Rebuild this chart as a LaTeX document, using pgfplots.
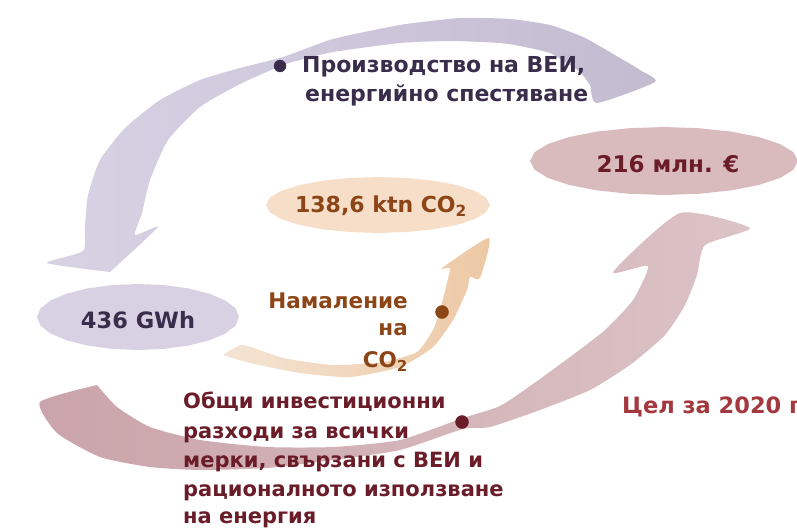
\documentclass[border=0pt]{standalone}
\usepackage{pgfplots}
\pgfplotsset{compat=1.18}
\usepackage{fontspec}
\setmainfont{DejaVu Sans}
\definecolor{lavA}{HTML}{D8D2E5}
\definecolor{lavB}{HTML}{C3BCD1}
\definecolor{lavE}{HTML}{D8D1E3}
\definecolor{pinkA}{HTML}{CAA4AA}
\definecolor{pinkB}{HTML}{DCC3C6}
\definecolor{pinkE}{HTML}{D9BABD}
\definecolor{begA}{HTML}{F4E4D4}
\definecolor{begB}{HTML}{EDC8A4}
\definecolor{begE}{HTML}{F6DEC8}
\definecolor{tPurple}{HTML}{3A2D4C}
\definecolor{tBrown}{HTML}{8B4516}
\definecolor{tRed}{HTML}{6A1D28}
\definecolor{tRed2}{HTML}{A3383E}
\begin{document}
\begin{tikzpicture}
\begin{axis}[scale only axis, width=797pt, height=527pt,
  xmin=0, xmax=797, ymin=0, ymax=527, y dir=reverse,
  hide axis, clip=false]
% lavender curved arrow
\addplot[draw=none, smooth, tension=0.35, left color=lavA, right color=lavB] coordinates {
(110,272) (47,263) (83,251) (85,225) (88,195) (100,160) (125,128) (160,100)
(200,80) (240,68) (283,57) (333,39) (400,25) (460,18) (510,19) (550,25)
(583,37) (615,55) (640,70) (655,82) (597,103) (590,85) (580,72) (565,62)
(550,53) (525,47) (500,43) (450,41) (400,43) (333,52) (300,60) (283,65)
(240,84) (200,107) (168,140) (150,180) (142,213) (135,235) (158,227) (110,272)};
% pink curved arrow
\addplot[draw=none, smooth, tension=0.35, left color=pinkA, right color=pinkB] coordinates {
(97,385) (117,407) (150,427) (200,440) (267,447) (333,447) (400,440)
(463,418) (500,406) (533,384) (570,357) (605,330) (633,300) (648,266)
(613,272) (680,213) (750,228) (705,245) (697,275) (685,305) (665,335)
(630,365) (590,390) (540,410) (490,427) (463,429) (400,450) (333,460)
(267,468) (200,470) (150,467) (100,457) (57,433) (40,402) (97,385)};
% beige curved arrow
\addplot[draw=none, smooth, tension=0.35, left color=begA, right color=begB] coordinates {
(223,355) (243,345) (283,358) (333,365) (383,362) (417,352) (433,330)
(440,310) (447,283) (450,268) (442,268) (489,238) (480,278) (470,277)
(467,290) (453,320) (433,347) (400,367) (350,377) (300,373) (250,363) (223,355)};
% ellipse 436 GWh
\addplot[draw=none, fill=lavE] coordinates {
(239,317) (235.6,325.5) (225.5,333.5) (209.4,340.3) (188.5,345.6) (164.1,348.9)
(138,350) (111.9,348.9) (87.5,345.6) (66.6,340.3) (50.5,333.5) (40.4,325.5)
(37,317) (40.4,308.5) (50.5,300.5) (66.6,293.7) (87.5,288.4) (111.9,285.1)
(138,284) (164.1,285.1) (188.5,288.4) (209.4,293.7) (225.5,300.5) (235.6,308.5)};
% ellipse 138,6 ktn
\addplot[draw=none, fill=begE] coordinates {
(490,205) (486.2,212.2) (475,219) (457.2,224.8) (434,229.2) (407,232)
(378,233) (349,232) (322,229.2) (298.8,224.8) (281,219) (269.8,212.2)
(266,205) (269.8,197.8) (281,191) (298.8,185.2) (322,180.8) (349,178)
(378,177) (407,178) (434,180.8) (457.2,185.2) (475,191) (486.2,197.8)};
% ellipse 216
\addplot[draw=none, fill=pinkE] coordinates {
(798,161) (793.4,169.8) (780,178) (758.8,185) (731,190.4) (698.7,193.8)
(664,195) (629.3,193.8) (597,190.4) (569.2,185) (548,178) (534.6,169.8)
(530,161) (534.6,152.2) (548,144) (569.2,137) (597,131.6) (629.3,128.2)
(664,127) (698.7,128.2) (731,131.6) (758.8,137) (780,144) (793.4,152.2)};
% bullets
\addplot[only marks, mark=*, mark size=6, color=tPurple] coordinates {(280,66)};
\addplot[only marks, mark=*, mark size=6.5, color=tBrown] coordinates {(442,312)};
\addplot[only marks, mark=*, mark size=6.5, color=tRed] coordinates {(462,422)};
% texts
\node[anchor=base west, inner sep=0, text=tPurple, font=\fontsize{22}{26}\selectfont\bfseries] at (axis cs:302,73) {Производство на ВЕИ,};
\node[anchor=base west, inner sep=0, text=tPurple, font=\fontsize{22}{26}\selectfont\bfseries] at (axis cs:305,101) {енергийно спестяване};
\node[anchor=base, inner sep=0, text=tBrown, font=\fontsize{22}{26}\selectfont\bfseries] at (axis cs:381,212) {138,6 ktn CO\textsubscript{2}};
\node[anchor=base, inner sep=0, text=tPurple, font=\fontsize{22.5}{26}\selectfont\bfseries] at (axis cs:138,328) {436 GWh};
\node[anchor=base, inner sep=0, text=tRed, font=\fontsize{23}{27}\selectfont\bfseries] at (axis cs:668,172) {216 млн. €};
\node[anchor=base east, inner sep=0, text=tBrown, font=\fontsize{21.5}{25}\selectfont\bfseries] at (axis cs:408,308) {Намаление};
\node[anchor=base east, inner sep=0, text=tBrown, font=\fontsize{21.5}{25}\selectfont\bfseries] at (axis cs:408,335) {на};
\node[anchor=base east, inner sep=0, text=tBrown, font=\fontsize{21.5}{25}\selectfont\bfseries] at (axis cs:408,367) {CO\textsubscript{2}};
\node[anchor=base west, inner sep=0, text=tRed, font=\fontsize{21}{25}\selectfont\bfseries] at (axis cs:183,408) {Общи инвестиционни};
\node[anchor=base west, inner sep=0, text=tRed, font=\fontsize{21}{25}\selectfont\bfseries] at (axis cs:183,438) {разходи за всички};
\node[anchor=base west, inner sep=0, text=tRed, font=\fontsize{21}{25}\selectfont\bfseries] at (axis cs:183,467) {мерки, свързани с ВЕИ и};
\node[anchor=base west, inner sep=0, text=tRed, font=\fontsize{21}{25}\selectfont\bfseries] at (axis cs:183,496) {рационалното използване};
\node[anchor=base west, inner sep=0, text=tRed, font=\fontsize{21}{25}\selectfont\bfseries] at (axis cs:183,523) {на енергия};
\node[anchor=base west, inner sep=0, text=tRed2, font=\fontsize{22.5}{27}\selectfont\bfseries] at (axis cs:622,413) {Цел за 2020 г.};
\end{axis}
\pgfresetboundingbox
\path (0,0) rectangle (797pt,527pt);
\end{tikzpicture}
\end{document}
